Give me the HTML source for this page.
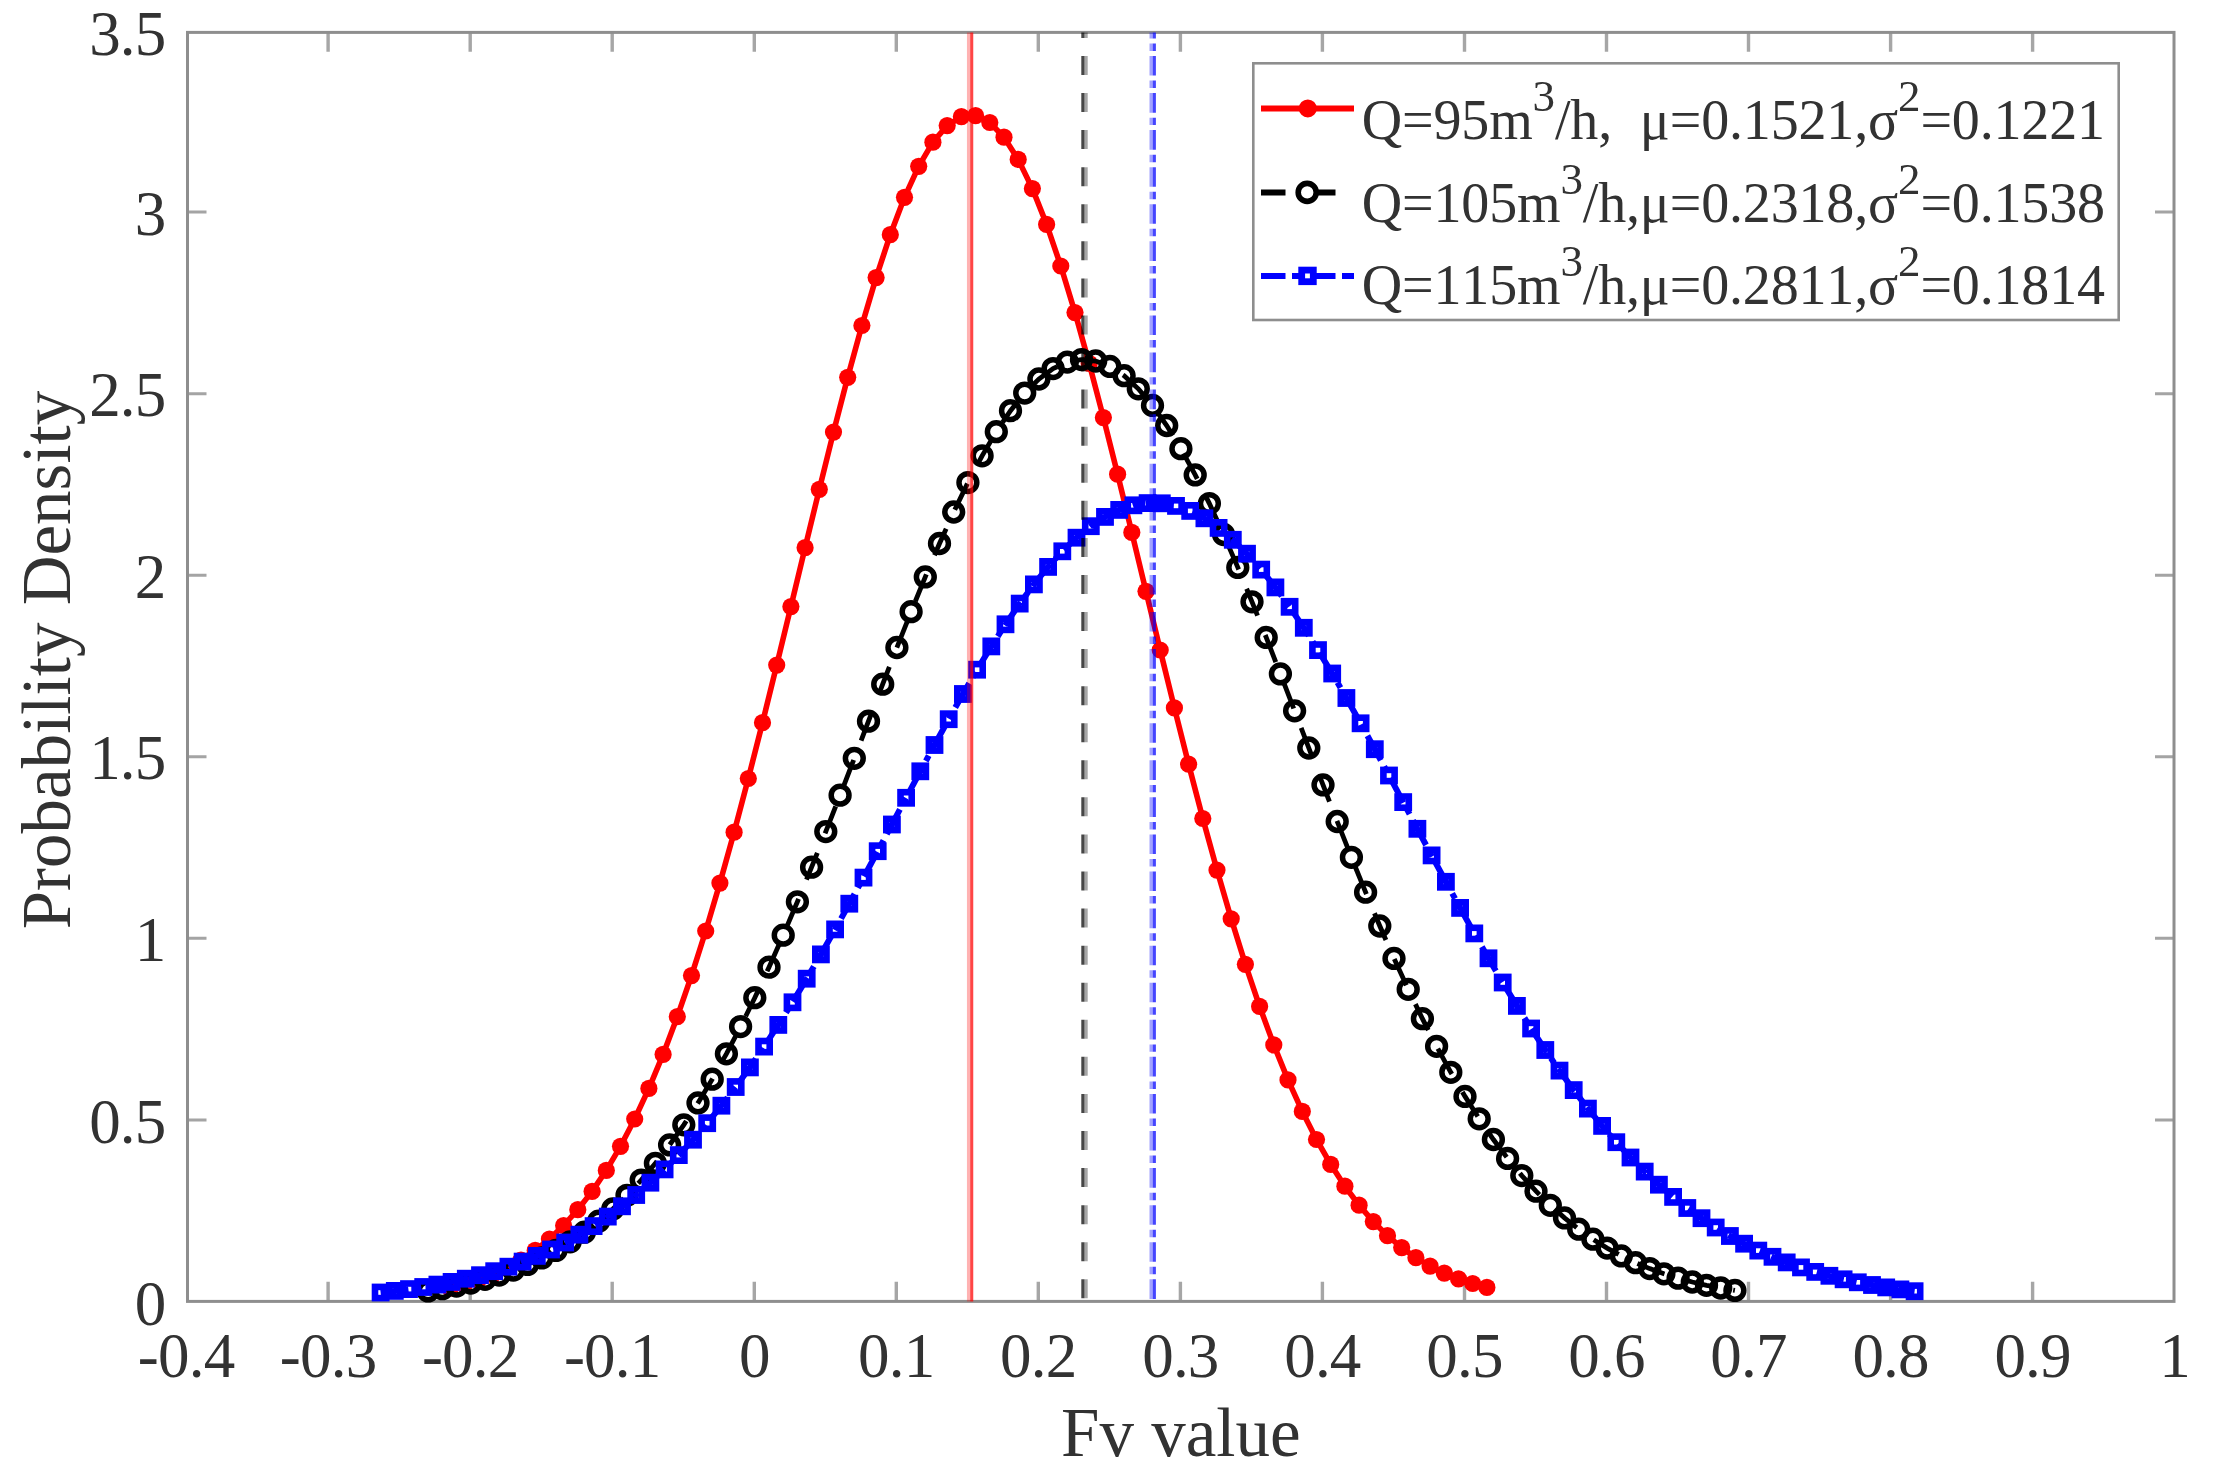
<!DOCTYPE html>
<html lang="en"><head><meta charset="utf-8"><title>Probability Density</title>
<style>html,body{margin:0;padding:0;background:#fff}body{width:2215px;height:1484px;overflow:hidden}svg{display:block}text{font-kerning:none;font-family:"Liberation Serif","DejaVu Serif",serif;fill:#303030}</style></head><body>
<svg width="2215" height="1484" viewBox="0 0 2215 1484">
<rect width="2215" height="1484" fill="#fff"/>
<filter id="soft" x="0" y="0" width="100%" height="100%" filterUnits="objectBoundingBox"><feGaussianBlur stdDeviation="0.7"/></filter>
<g filter="url(#soft)"><rect width="2215" height="1484" fill="#fff"/>
<g stroke="#a6a6a6" stroke-width="3.4" fill="none">
<path d="M328.1 1301.4V1281.8 M328.1 32.4V51.8"/>
<path d="M470.2 1301.4V1281.8 M470.2 32.4V51.8"/>
<path d="M612.2 1301.4V1281.8 M612.2 32.4V51.8"/>
<path d="M754.3 1301.4V1281.8 M754.3 32.4V51.8"/>
<path d="M896.3 1301.4V1281.8 M896.3 32.4V51.8"/>
<path d="M1038.3 1301.4V1281.8 M1038.3 32.4V51.8"/>
<path d="M1180.4 1301.4V1281.8 M1180.4 32.4V51.8"/>
<path d="M1322.4 1301.4V1281.8 M1322.4 32.4V51.8"/>
<path d="M1464.5 1301.4V1281.8 M1464.5 32.4V51.8"/>
<path d="M1606.5 1301.4V1281.8 M1606.5 32.4V51.8"/>
<path d="M1748.5 1301.4V1281.8 M1748.5 32.4V51.8"/>
<path d="M1890.6 1301.4V1281.8 M1890.6 32.4V51.8"/>
<path d="M2032.6 1301.4V1281.8 M2032.6 32.4V51.8"/>
</g><g stroke="#a4a4a4" stroke-width="3" fill="none">
<path d="M187.5 1119.9H206.5 M2174 1119.9H2155"/>
<path d="M187.5 938.3H206.5 M2174 938.3H2155"/>
<path d="M187.5 756.8H206.5 M2174 756.8H2155"/>
<path d="M187.5 575.2H206.5 M2174 575.2H2155"/>
<path d="M187.5 393.7H206.5 M2174 393.7H2155"/>
<path d="M187.5 212.1H206.5 M2174 212.1H2155"/>
</g>
<rect x="187.5" y="32.4" width="1986.5" height="1269" fill="none" stroke="#8e8e8e" stroke-width="3"/>
<polyline fill="none" stroke="#ff0000" stroke-width="5.6" stroke-linejoin="round" points="450,1288.2 464.2,1284.6 478.4,1280.1 492.6,1274.7 506.8,1268 521,1260 535.2,1250.4 549.4,1239 563.6,1225.5 577.8,1209.7 592.1,1191.4 606.3,1170.4 620.5,1146.3 634.7,1119 648.9,1088.4 663.1,1054.4 677.3,1016.7 691.5,975.6 705.7,931 719.9,883.1 734.1,832.2 748.3,778.5 762.5,722.7 776.7,665.1 790.9,606.6 805.1,547.7 819.3,489.3 833.5,432.1 847.7,377.3 861.9,325.5 876.1,277.6 890.3,234.7 904.5,197.3 918.7,166.3 932.9,142.2 947.2,125.6 961.4,116.6 975.6,115.6 989.8,122.5 1004,137.2 1018.2,159.4 1032.4,188.6 1046.6,224.4 1060.8,266 1075,312.6 1089.2,363.4 1103.4,417.6 1117.6,474.2 1131.8,532.4 1146,591.3 1160.2,650 1174.4,707.9 1188.6,764.2 1202.8,818.5 1217,870.1 1231.2,918.8 1245.4,964.3 1259.6,1006.4 1273.8,1044.9 1288,1079.9 1302.3,1111.4 1316.5,1139.5 1330.7,1164.4 1344.9,1186.2 1359.1,1205.2 1373.3,1221.6 1387.5,1235.7 1401.7,1247.6 1415.9,1257.7 1430.1,1266.1 1444.3,1273.1 1458.5,1278.8 1472.7,1283.5 1486.9,1287.4"/>
<g fill="#ff0000">
<circle cx="450" cy="1288.2" r="8.6"/>
<circle cx="464.2" cy="1284.6" r="8.6"/>
<circle cx="478.4" cy="1280.1" r="8.6"/>
<circle cx="492.6" cy="1274.7" r="8.6"/>
<circle cx="506.8" cy="1268" r="8.6"/>
<circle cx="521" cy="1260" r="8.6"/>
<circle cx="535.2" cy="1250.4" r="8.6"/>
<circle cx="549.4" cy="1239" r="8.6"/>
<circle cx="563.6" cy="1225.5" r="8.6"/>
<circle cx="577.8" cy="1209.7" r="8.6"/>
<circle cx="592.1" cy="1191.4" r="8.6"/>
<circle cx="606.3" cy="1170.4" r="8.6"/>
<circle cx="620.5" cy="1146.3" r="8.6"/>
<circle cx="634.7" cy="1119" r="8.6"/>
<circle cx="648.9" cy="1088.4" r="8.6"/>
<circle cx="663.1" cy="1054.4" r="8.6"/>
<circle cx="677.3" cy="1016.7" r="8.6"/>
<circle cx="691.5" cy="975.6" r="8.6"/>
<circle cx="705.7" cy="931" r="8.6"/>
<circle cx="719.9" cy="883.1" r="8.6"/>
<circle cx="734.1" cy="832.2" r="8.6"/>
<circle cx="748.3" cy="778.5" r="8.6"/>
<circle cx="762.5" cy="722.7" r="8.6"/>
<circle cx="776.7" cy="665.1" r="8.6"/>
<circle cx="790.9" cy="606.6" r="8.6"/>
<circle cx="805.1" cy="547.7" r="8.6"/>
<circle cx="819.3" cy="489.3" r="8.6"/>
<circle cx="833.5" cy="432.1" r="8.6"/>
<circle cx="847.7" cy="377.3" r="8.6"/>
<circle cx="861.9" cy="325.5" r="8.6"/>
<circle cx="876.1" cy="277.6" r="8.6"/>
<circle cx="890.3" cy="234.7" r="8.6"/>
<circle cx="904.5" cy="197.3" r="8.6"/>
<circle cx="918.7" cy="166.3" r="8.6"/>
<circle cx="932.9" cy="142.2" r="8.6"/>
<circle cx="947.2" cy="125.6" r="8.6"/>
<circle cx="961.4" cy="116.6" r="8.6"/>
<circle cx="975.6" cy="115.6" r="8.6"/>
<circle cx="989.8" cy="122.5" r="8.6"/>
<circle cx="1004" cy="137.2" r="8.6"/>
<circle cx="1018.2" cy="159.4" r="8.6"/>
<circle cx="1032.4" cy="188.6" r="8.6"/>
<circle cx="1046.6" cy="224.4" r="8.6"/>
<circle cx="1060.8" cy="266" r="8.6"/>
<circle cx="1075" cy="312.6" r="8.6"/>
<circle cx="1089.2" cy="363.4" r="8.6"/>
<circle cx="1103.4" cy="417.6" r="8.6"/>
<circle cx="1117.6" cy="474.2" r="8.6"/>
<circle cx="1131.8" cy="532.4" r="8.6"/>
<circle cx="1146" cy="591.3" r="8.6"/>
<circle cx="1160.2" cy="650" r="8.6"/>
<circle cx="1174.4" cy="707.9" r="8.6"/>
<circle cx="1188.6" cy="764.2" r="8.6"/>
<circle cx="1202.8" cy="818.5" r="8.6"/>
<circle cx="1217" cy="870.1" r="8.6"/>
<circle cx="1231.2" cy="918.8" r="8.6"/>
<circle cx="1245.4" cy="964.3" r="8.6"/>
<circle cx="1259.6" cy="1006.4" r="8.6"/>
<circle cx="1273.8" cy="1044.9" r="8.6"/>
<circle cx="1288" cy="1079.9" r="8.6"/>
<circle cx="1302.3" cy="1111.4" r="8.6"/>
<circle cx="1316.5" cy="1139.5" r="8.6"/>
<circle cx="1330.7" cy="1164.4" r="8.6"/>
<circle cx="1344.9" cy="1186.2" r="8.6"/>
<circle cx="1359.1" cy="1205.2" r="8.6"/>
<circle cx="1373.3" cy="1221.6" r="8.6"/>
<circle cx="1387.5" cy="1235.7" r="8.6"/>
<circle cx="1401.7" cy="1247.6" r="8.6"/>
<circle cx="1415.9" cy="1257.7" r="8.6"/>
<circle cx="1430.1" cy="1266.1" r="8.6"/>
<circle cx="1444.3" cy="1273.1" r="8.6"/>
<circle cx="1458.5" cy="1278.8" r="8.6"/>
<circle cx="1472.7" cy="1283.5" r="8.6"/>
<circle cx="1486.9" cy="1287.4" r="8.6"/>
</g>
<polyline fill="none" stroke="#000000" stroke-width="4.8" stroke-dasharray="29 20.83" stroke-dashoffset="7.64" points="428.1,1290.9 442.3,1288.7 456.5,1286.1 470.7,1283 485,1279.3 499.2,1275.1 513.4,1270.1 527.6,1264.4 541.8,1257.9 556,1250.4 570.2,1241.8 584.4,1232.2 598.6,1221.2 612.8,1209 627,1195.3 641.2,1180.1 655.4,1163.3 669.6,1144.9 683.8,1124.8 698,1102.9 712.2,1079.2 726.4,1053.8 740.6,1026.6 754.8,997.7 769,967.2 783.2,935.2 797.4,901.8 811.6,867.2 825.8,831.6 840.1,795.2 854.3,758.3 868.5,721.2 882.7,684.2 896.9,647.5 911.1,611.7 925.3,576.9 939.5,543.5 953.7,512 967.9,482.6 982.1,455.8 996.3,431.7 1010.5,410.7 1024.7,393.1 1038.9,379 1053.1,368.6 1067.3,362.1 1081.5,359.6 1095.7,361 1109.9,366.4 1124.1,375.7 1138.3,388.8 1152.5,405.4 1166.7,425.5 1180.9,448.7 1195.2,474.9 1209.4,503.6 1223.6,534.5 1237.8,567.4 1252,601.8 1266.2,637.4 1280.4,673.9 1294.6,710.8 1308.8,748 1323,784.9 1337.2,821.5 1351.4,857.3 1365.6,892.2 1379.8,926 1394,958.4 1408.2,989.3 1422.4,1018.7 1436.6,1046.3 1450.8,1072.3 1465,1096.4 1479.2,1118.8 1493.4,1139.5 1507.6,1158.4 1521.8,1175.6 1536,1191.2 1550.3,1205.3 1564.5,1217.9 1578.7,1229.2 1592.9,1239.2 1607.1,1248.1 1621.3,1255.9 1635.5,1262.7 1649.7,1268.6 1663.9,1273.8 1678.1,1278.2 1692.3,1282 1706.5,1285.3 1720.7,1288 1734.9,1290.4"/>
<g fill="none" stroke="#000000" stroke-width="5.5">
<circle cx="428.1" cy="1290.9" r="8.9"/>
<circle cx="442.3" cy="1288.7" r="8.9"/>
<circle cx="456.5" cy="1286.1" r="8.9"/>
<circle cx="470.7" cy="1283" r="8.9"/>
<circle cx="485" cy="1279.3" r="8.9"/>
<circle cx="499.2" cy="1275.1" r="8.9"/>
<circle cx="513.4" cy="1270.1" r="8.9"/>
<circle cx="527.6" cy="1264.4" r="8.9"/>
<circle cx="541.8" cy="1257.9" r="8.9"/>
<circle cx="556" cy="1250.4" r="8.9"/>
<circle cx="570.2" cy="1241.8" r="8.9"/>
<circle cx="584.4" cy="1232.2" r="8.9"/>
<circle cx="598.6" cy="1221.2" r="8.9"/>
<circle cx="612.8" cy="1209" r="8.9"/>
<circle cx="627" cy="1195.3" r="8.9"/>
<circle cx="641.2" cy="1180.1" r="8.9"/>
<circle cx="655.4" cy="1163.3" r="8.9"/>
<circle cx="669.6" cy="1144.9" r="8.9"/>
<circle cx="683.8" cy="1124.8" r="8.9"/>
<circle cx="698" cy="1102.9" r="8.9"/>
<circle cx="712.2" cy="1079.2" r="8.9"/>
<circle cx="726.4" cy="1053.8" r="8.9"/>
<circle cx="740.6" cy="1026.6" r="8.9"/>
<circle cx="754.8" cy="997.7" r="8.9"/>
<circle cx="769" cy="967.2" r="8.9"/>
<circle cx="783.2" cy="935.2" r="8.9"/>
<circle cx="797.4" cy="901.8" r="8.9"/>
<circle cx="811.6" cy="867.2" r="8.9"/>
<circle cx="825.8" cy="831.6" r="8.9"/>
<circle cx="840.1" cy="795.2" r="8.9"/>
<circle cx="854.3" cy="758.3" r="8.9"/>
<circle cx="868.5" cy="721.2" r="8.9"/>
<circle cx="882.7" cy="684.2" r="8.9"/>
<circle cx="896.9" cy="647.5" r="8.9"/>
<circle cx="911.1" cy="611.7" r="8.9"/>
<circle cx="925.3" cy="576.9" r="8.9"/>
<circle cx="939.5" cy="543.5" r="8.9"/>
<circle cx="953.7" cy="512" r="8.9"/>
<circle cx="967.9" cy="482.6" r="8.9"/>
<circle cx="982.1" cy="455.8" r="8.9"/>
<circle cx="996.3" cy="431.7" r="8.9"/>
<circle cx="1010.5" cy="410.7" r="8.9"/>
<circle cx="1024.7" cy="393.1" r="8.9"/>
<circle cx="1038.9" cy="379" r="8.9"/>
<circle cx="1053.1" cy="368.6" r="8.9"/>
<circle cx="1067.3" cy="362.1" r="8.9"/>
<circle cx="1081.5" cy="359.6" r="8.9"/>
<circle cx="1095.7" cy="361" r="8.9"/>
<circle cx="1109.9" cy="366.4" r="8.9"/>
<circle cx="1124.1" cy="375.7" r="8.9"/>
<circle cx="1138.3" cy="388.8" r="8.9"/>
<circle cx="1152.5" cy="405.4" r="8.9"/>
<circle cx="1166.7" cy="425.5" r="8.9"/>
<circle cx="1180.9" cy="448.7" r="8.9"/>
<circle cx="1195.2" cy="474.9" r="8.9"/>
<circle cx="1209.4" cy="503.6" r="8.9"/>
<circle cx="1223.6" cy="534.5" r="8.9"/>
<circle cx="1237.8" cy="567.4" r="8.9"/>
<circle cx="1252" cy="601.8" r="8.9"/>
<circle cx="1266.2" cy="637.4" r="8.9"/>
<circle cx="1280.4" cy="673.9" r="8.9"/>
<circle cx="1294.6" cy="710.8" r="8.9"/>
<circle cx="1308.8" cy="748" r="8.9"/>
<circle cx="1323" cy="784.9" r="8.9"/>
<circle cx="1337.2" cy="821.5" r="8.9"/>
<circle cx="1351.4" cy="857.3" r="8.9"/>
<circle cx="1365.6" cy="892.2" r="8.9"/>
<circle cx="1379.8" cy="926" r="8.9"/>
<circle cx="1394" cy="958.4" r="8.9"/>
<circle cx="1408.2" cy="989.3" r="8.9"/>
<circle cx="1422.4" cy="1018.7" r="8.9"/>
<circle cx="1436.6" cy="1046.3" r="8.9"/>
<circle cx="1450.8" cy="1072.3" r="8.9"/>
<circle cx="1465" cy="1096.4" r="8.9"/>
<circle cx="1479.2" cy="1118.8" r="8.9"/>
<circle cx="1493.4" cy="1139.5" r="8.9"/>
<circle cx="1507.6" cy="1158.4" r="8.9"/>
<circle cx="1521.8" cy="1175.6" r="8.9"/>
<circle cx="1536" cy="1191.2" r="8.9"/>
<circle cx="1550.3" cy="1205.3" r="8.9"/>
<circle cx="1564.5" cy="1217.9" r="8.9"/>
<circle cx="1578.7" cy="1229.2" r="8.9"/>
<circle cx="1592.9" cy="1239.2" r="8.9"/>
<circle cx="1607.1" cy="1248.1" r="8.9"/>
<circle cx="1621.3" cy="1255.9" r="8.9"/>
<circle cx="1635.5" cy="1262.7" r="8.9"/>
<circle cx="1649.7" cy="1268.6" r="8.9"/>
<circle cx="1663.9" cy="1273.8" r="8.9"/>
<circle cx="1678.1" cy="1278.2" r="8.9"/>
<circle cx="1692.3" cy="1282" r="8.9"/>
<circle cx="1706.5" cy="1285.3" r="8.9"/>
<circle cx="1720.7" cy="1288" r="8.9"/>
<circle cx="1734.9" cy="1290.4" r="8.9"/>
</g>
<polyline fill="none" stroke="#0000ff" stroke-width="6" stroke-dasharray="28 7 6 7" points="380.6,1292.5 394.8,1290.9 409,1289.1 423.2,1287 437.4,1284.6 451.6,1281.9 465.8,1278.7 480,1275.2 494.2,1271.2 508.4,1266.7 522.6,1261.6 536.8,1255.9 551,1249.5 565.2,1242.5 579.4,1234.7 593.6,1226.1 607.8,1216.6 622,1206.3 636.2,1195 650.4,1182.7 664.6,1169.4 678.8,1155.1 693,1139.7 707.2,1123.2 721.4,1105.7 735.7,1087 749.9,1067.4 764.1,1046.6 778.3,1024.9 792.5,1002.3 806.7,978.7 820.9,954.4 835.1,929.4 849.3,903.7 863.5,877.6 877.7,851.2 891.9,824.5 906.1,797.8 920.3,771.3 934.5,745 948.7,719.2 962.9,694 977.1,669.7 991.3,646.4 1005.5,624.3 1019.7,603.6 1033.9,584.4 1048.1,566.9 1062.3,551.3 1076.5,537.7 1090.8,526.2 1105,516.9 1119.2,509.9 1133.4,505.3 1147.6,503.1 1161.8,503.3 1176,505.9 1190.2,510.9 1204.4,518.3 1218.6,527.9 1232.8,539.8 1247,553.7 1261.2,569.6 1275.4,587.4 1289.6,606.8 1303.8,627.8 1318,650.1 1332.2,673.5 1346.4,698 1360.6,723.3 1374.8,749.2 1389,775.5 1403.2,802.1 1417.4,828.8 1431.6,855.4 1445.9,881.8 1460.1,907.9 1474.3,933.4 1488.5,958.3 1502.7,982.5 1516.9,1005.9 1531.1,1028.5 1545.3,1050 1559.5,1070.6 1573.7,1090.1 1587.9,1108.6 1602.1,1125.9 1616.3,1142.2 1630.5,1157.5 1644.7,1171.6 1658.9,1184.7 1673.1,1196.9 1687.3,1208 1701.5,1218.2 1715.7,1227.5 1729.9,1236 1744.1,1243.7 1758.3,1250.6 1772.5,1256.8 1786.7,1262.4 1801,1267.4 1815.2,1271.9 1829.4,1275.8 1843.6,1279.3 1857.8,1282.3 1872,1285 1886.2,1287.4 1900.4,1289.4 1914.6,1291.2"/>
<g fill="none" stroke="#0000ff" stroke-width="6.6">
<rect x="375" y="1286.9" width="11.2" height="11.2"/>
<rect x="389.2" y="1285.3" width="11.2" height="11.2"/>
<rect x="403.4" y="1283.5" width="11.2" height="11.2"/>
<rect x="417.6" y="1281.4" width="11.2" height="11.2"/>
<rect x="431.8" y="1279" width="11.2" height="11.2"/>
<rect x="446" y="1276.3" width="11.2" height="11.2"/>
<rect x="460.2" y="1273.1" width="11.2" height="11.2"/>
<rect x="474.4" y="1269.6" width="11.2" height="11.2"/>
<rect x="488.6" y="1265.6" width="11.2" height="11.2"/>
<rect x="502.8" y="1261.1" width="11.2" height="11.2"/>
<rect x="517" y="1256" width="11.2" height="11.2"/>
<rect x="531.2" y="1250.3" width="11.2" height="11.2"/>
<rect x="545.4" y="1243.9" width="11.2" height="11.2"/>
<rect x="559.6" y="1236.9" width="11.2" height="11.2"/>
<rect x="573.8" y="1229.1" width="11.2" height="11.2"/>
<rect x="588" y="1220.5" width="11.2" height="11.2"/>
<rect x="602.2" y="1211" width="11.2" height="11.2"/>
<rect x="616.4" y="1200.7" width="11.2" height="11.2"/>
<rect x="630.6" y="1189.4" width="11.2" height="11.2"/>
<rect x="644.8" y="1177.1" width="11.2" height="11.2"/>
<rect x="659" y="1163.8" width="11.2" height="11.2"/>
<rect x="673.2" y="1149.5" width="11.2" height="11.2"/>
<rect x="687.4" y="1134.1" width="11.2" height="11.2"/>
<rect x="701.6" y="1117.6" width="11.2" height="11.2"/>
<rect x="715.8" y="1100.1" width="11.2" height="11.2"/>
<rect x="730.1" y="1081.4" width="11.2" height="11.2"/>
<rect x="744.3" y="1061.8" width="11.2" height="11.2"/>
<rect x="758.5" y="1041" width="11.2" height="11.2"/>
<rect x="772.7" y="1019.3" width="11.2" height="11.2"/>
<rect x="786.9" y="996.7" width="11.2" height="11.2"/>
<rect x="801.1" y="973.1" width="11.2" height="11.2"/>
<rect x="815.3" y="948.8" width="11.2" height="11.2"/>
<rect x="829.5" y="923.8" width="11.2" height="11.2"/>
<rect x="843.7" y="898.1" width="11.2" height="11.2"/>
<rect x="857.9" y="872" width="11.2" height="11.2"/>
<rect x="872.1" y="845.6" width="11.2" height="11.2"/>
<rect x="886.3" y="818.9" width="11.2" height="11.2"/>
<rect x="900.5" y="792.2" width="11.2" height="11.2"/>
<rect x="914.7" y="765.7" width="11.2" height="11.2"/>
<rect x="928.9" y="739.4" width="11.2" height="11.2"/>
<rect x="943.1" y="713.6" width="11.2" height="11.2"/>
<rect x="957.3" y="688.4" width="11.2" height="11.2"/>
<rect x="971.5" y="664.1" width="11.2" height="11.2"/>
<rect x="985.7" y="640.8" width="11.2" height="11.2"/>
<rect x="999.9" y="618.7" width="11.2" height="11.2"/>
<rect x="1014.1" y="598" width="11.2" height="11.2"/>
<rect x="1028.3" y="578.8" width="11.2" height="11.2"/>
<rect x="1042.5" y="561.3" width="11.2" height="11.2"/>
<rect x="1056.7" y="545.7" width="11.2" height="11.2"/>
<rect x="1070.9" y="532.1" width="11.2" height="11.2"/>
<rect x="1085.2" y="520.6" width="11.2" height="11.2"/>
<rect x="1099.4" y="511.3" width="11.2" height="11.2"/>
<rect x="1113.6" y="504.3" width="11.2" height="11.2"/>
<rect x="1127.8" y="499.7" width="11.2" height="11.2"/>
<rect x="1142" y="497.5" width="11.2" height="11.2"/>
<rect x="1156.2" y="497.7" width="11.2" height="11.2"/>
<rect x="1170.4" y="500.3" width="11.2" height="11.2"/>
<rect x="1184.6" y="505.3" width="11.2" height="11.2"/>
<rect x="1198.8" y="512.7" width="11.2" height="11.2"/>
<rect x="1213" y="522.3" width="11.2" height="11.2"/>
<rect x="1227.2" y="534.2" width="11.2" height="11.2"/>
<rect x="1241.4" y="548.1" width="11.2" height="11.2"/>
<rect x="1255.6" y="564" width="11.2" height="11.2"/>
<rect x="1269.8" y="581.8" width="11.2" height="11.2"/>
<rect x="1284" y="601.2" width="11.2" height="11.2"/>
<rect x="1298.2" y="622.2" width="11.2" height="11.2"/>
<rect x="1312.4" y="644.5" width="11.2" height="11.2"/>
<rect x="1326.6" y="667.9" width="11.2" height="11.2"/>
<rect x="1340.8" y="692.4" width="11.2" height="11.2"/>
<rect x="1355" y="717.7" width="11.2" height="11.2"/>
<rect x="1369.2" y="743.6" width="11.2" height="11.2"/>
<rect x="1383.4" y="769.9" width="11.2" height="11.2"/>
<rect x="1397.6" y="796.5" width="11.2" height="11.2"/>
<rect x="1411.8" y="823.2" width="11.2" height="11.2"/>
<rect x="1426" y="849.8" width="11.2" height="11.2"/>
<rect x="1440.3" y="876.2" width="11.2" height="11.2"/>
<rect x="1454.5" y="902.3" width="11.2" height="11.2"/>
<rect x="1468.7" y="927.8" width="11.2" height="11.2"/>
<rect x="1482.9" y="952.7" width="11.2" height="11.2"/>
<rect x="1497.1" y="976.9" width="11.2" height="11.2"/>
<rect x="1511.3" y="1000.3" width="11.2" height="11.2"/>
<rect x="1525.5" y="1022.9" width="11.2" height="11.2"/>
<rect x="1539.7" y="1044.4" width="11.2" height="11.2"/>
<rect x="1553.9" y="1065" width="11.2" height="11.2"/>
<rect x="1568.1" y="1084.5" width="11.2" height="11.2"/>
<rect x="1582.3" y="1103" width="11.2" height="11.2"/>
<rect x="1596.5" y="1120.3" width="11.2" height="11.2"/>
<rect x="1610.7" y="1136.6" width="11.2" height="11.2"/>
<rect x="1624.9" y="1151.9" width="11.2" height="11.2"/>
<rect x="1639.1" y="1166" width="11.2" height="11.2"/>
<rect x="1653.3" y="1179.1" width="11.2" height="11.2"/>
<rect x="1667.5" y="1191.3" width="11.2" height="11.2"/>
<rect x="1681.7" y="1202.4" width="11.2" height="11.2"/>
<rect x="1695.9" y="1212.6" width="11.2" height="11.2"/>
<rect x="1710.1" y="1221.9" width="11.2" height="11.2"/>
<rect x="1724.3" y="1230.4" width="11.2" height="11.2"/>
<rect x="1738.5" y="1238.1" width="11.2" height="11.2"/>
<rect x="1752.7" y="1245" width="11.2" height="11.2"/>
<rect x="1766.9" y="1251.2" width="11.2" height="11.2"/>
<rect x="1781.1" y="1256.8" width="11.2" height="11.2"/>
<rect x="1795.4" y="1261.8" width="11.2" height="11.2"/>
<rect x="1809.6" y="1266.3" width="11.2" height="11.2"/>
<rect x="1823.8" y="1270.2" width="11.2" height="11.2"/>
<rect x="1838" y="1273.7" width="11.2" height="11.2"/>
<rect x="1852.2" y="1276.7" width="11.2" height="11.2"/>
<rect x="1866.4" y="1279.4" width="11.2" height="11.2"/>
<rect x="1880.6" y="1281.8" width="11.2" height="11.2"/>
<rect x="1894.8" y="1283.8" width="11.2" height="11.2"/>
<rect x="1909" y="1285.6" width="11.2" height="11.2"/>
</g>
<clipPath id="ax"><rect x="187.5" y="32.4" width="1986.5" height="1269"/></clipPath>
<g clip-path="url(#ax)" fill="none">
<path d="M968.5 0V1400" stroke="#ff0000" stroke-opacity="0.3" stroke-width="3.1"/><path d="M971.7 0V1400" stroke="#ff0000" stroke-opacity="0.73" stroke-width="3.1"/>
<path d="M1082.9 18.9V1400" stroke="#000" stroke-opacity="0.72" stroke-width="3.2" stroke-dasharray="19 18.07"/><path d="M1086.1 18.9V1400" stroke="#000" stroke-opacity="0.35" stroke-width="3.2" stroke-dasharray="19 18.07"/>
<path d="M1151.1 18.9V1400" stroke="#0000ff" stroke-opacity="0.36" stroke-width="3.2" stroke-dasharray="19.6 5 7.47 5"/><path d="M1154.3 18.9V1400" stroke="#0000ff" stroke-opacity="0.73" stroke-width="3.2" stroke-dasharray="19.6 5 7.47 5"/>
</g>
<g font-size="63" text-anchor="middle" letter-spacing="-0.8">
<text x="186.1" y="1377">-0.4</text>
<text x="328.1" y="1377">-0.3</text>
<text x="470.2" y="1377">-0.2</text>
<text x="612.2" y="1377">-0.1</text>
<text x="754.3" y="1377">0</text>
<text x="896.3" y="1377">0.1</text>
<text x="1038.3" y="1377">0.2</text>
<text x="1180.4" y="1377">0.3</text>
<text x="1322.4" y="1377">0.4</text>
<text x="1464.5" y="1377">0.5</text>
<text x="1606.5" y="1377">0.6</text>
<text x="1748.5" y="1377">0.7</text>
<text x="1890.6" y="1377">0.8</text>
<text x="2032.6" y="1377">0.9</text>
<text x="2174.7" y="1377">1</text>
</g><g font-size="63" text-anchor="end" letter-spacing="-0.8">
<text x="165.5" y="1324.8">0</text>
<text x="165.5" y="1142.5">0.5</text>
<text x="165.5" y="960.9">1</text>
<text x="165.5" y="779.4">1.5</text>
<text x="165.5" y="597.8">2</text>
<text x="165.5" y="416.3">2.5</text>
<text x="165.5" y="234.7">3</text>
<text x="165.5" y="55.3">3.5</text>
</g>
<text x="1180.8" y="1456.4" font-size="69" text-anchor="middle">Fv value</text>
<text transform="translate(69.6 660) rotate(-90)" font-size="69" text-anchor="middle">Probability Density</text>
<rect x="1253.3" y="63.3" width="865.4" height="256.7" fill="#fff" stroke="#8e8e8e" stroke-width="2.6"/>
<path d="M1261 108.4H1354" stroke="#ff0000" stroke-width="6" fill="none"/><circle cx="1307.8" cy="108.4" r="9" fill="#ff0000"/>
<path d="M1261 192.4H1285.5M1317 192.4H1335.5" stroke="#000" stroke-width="6" fill="none"/><circle cx="1307.2" cy="192.4" r="9" fill="none" stroke="#000" stroke-width="5.6"/>
<path d="M1261 275.9H1285.5M1292 275.9H1335.5M1342 275.9H1354" stroke="#0000ff" stroke-width="6" fill="none"/><rect x="1301.7" y="270.1" width="11.6" height="11.6" fill="#fff" stroke="#0000ff" stroke-width="6.8"/>
<g font-size="56" letter-spacing="-0.16">
<text x="1361.8" y="138.9" fill="#1c1c1c">Q=95m<tspan dy="-28" font-size="45">3</tspan><tspan dy="28">/h, μ=0.1521,σ</tspan><tspan dy="-28" font-size="45">2</tspan><tspan dy="28">=0.1221</tspan></text>
<text x="1361.8" y="221.7" fill="#1c1c1c">Q=105m<tspan dy="-28" font-size="45">3</tspan><tspan dy="28">/h,μ=0.2318,σ</tspan><tspan dy="-28" font-size="45">2</tspan><tspan dy="28">=0.1538</tspan></text>
<text x="1361.8" y="304.1" fill="#1c1c1c">Q=115m<tspan dy="-28" font-size="45">3</tspan><tspan dy="28">/h,μ=0.2811,σ</tspan><tspan dy="-28" font-size="45">2</tspan><tspan dy="28">=0.1814</tspan></text>
</g>
</g></svg></body></html>
